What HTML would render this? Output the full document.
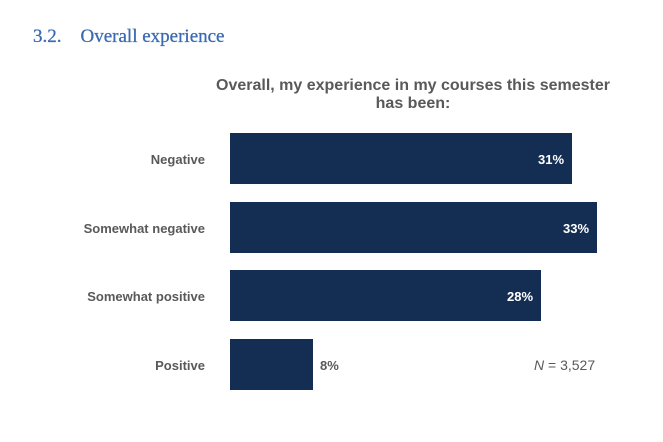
<!DOCTYPE html>
<html><head><style>
body{margin:0;width:663px;height:442px;background:#fff;position:relative;overflow:hidden;font-family:"Liberation Sans",sans-serif}
.h{position:absolute;left:33px;top:26px;font-family:"Liberation Serif",serif;font-size:19px;color:#3a6bb0;-webkit-text-stroke:0.3px #3a6bb0}
.t{position:absolute;left:200px;width:426px;top:77px;text-align:center;font-size:16px;font-weight:bold;color:#595959;line-height:18px}
.b{position:absolute;left:230px;background:#132e52;height:51px}
.l{position:absolute;right:458px;font-size:13px;font-weight:bold;color:#595959;text-align:right;white-space:nowrap}
.v{position:absolute;font-size:13px;font-weight:bold;color:#fff}
</style></head><body>
<div class="h">3.2.&nbsp;&nbsp;&nbsp;&nbsp;Overall experience</div>
<div class="t">Overall, my experience in my courses this semester<br>has been:</div>
<div class="b" style="top:133px;width:342px"></div>
<div class="b" style="top:202px;width:367px"></div>
<div class="b" style="top:270px;width:311px"></div>
<div class="b" style="top:339px;width:83px"></div>
<div class="l" style="top:152px">Negative</div>
<div class="l" style="top:221px">Somewhat negative</div>
<div class="l" style="top:289px">Somewhat positive</div>
<div class="l" style="top:358px">Positive</div>
<div class="v" style="top:152px;left:538px">31%</div>
<div class="v" style="top:221px;left:563px">33%</div>
<div class="v" style="top:289px;left:507px">28%</div>
<div class="v" style="top:358px;left:320px;color:#595959">8%</div>
<div style="position:absolute;left:534px;top:357px;font-size:14px;color:#595959"><i>N</i> = 3,527</div>
</body></html>
